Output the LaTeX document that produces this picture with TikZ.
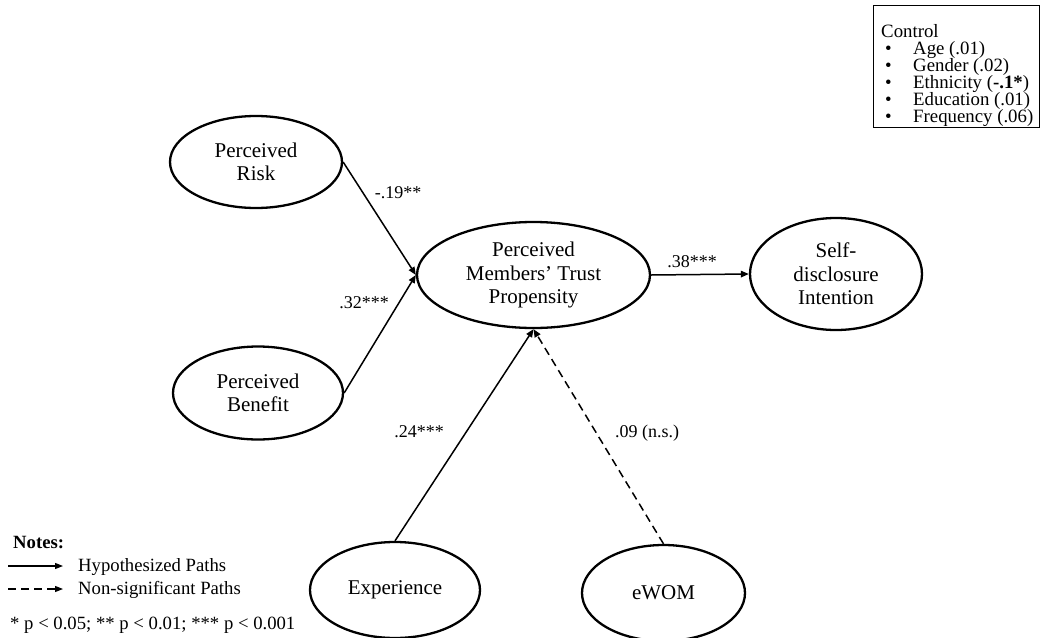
\documentclass[tikz,border=0pt]{standalone}
\usepackage{fontspec}
\setmainfont{Liberation Serif}
\usetikzlibrary{shapes.geometric,arrows.meta}
\newcommand{\tightlines}{\lineskiplimit=-8pt\relax\lineskip=0pt\relax}
\tikzset{
  oval/.style={ellipse, draw, line width=2.3pt, inner sep=0pt, minimum width=2*#1},
  lbl/.style={align=center, font=\fontsize{21}{23.5}\selectfont},
  coef/.style={font=\fontsize{18}{20}\selectfont, inner sep=0pt},
  path/.style={line width=1.5pt, -{Triangle[length=8pt,width=6.5pt]}},
  nspath/.style={path, dash pattern=on 8pt off 5pt},
  note/.style={font=\fontsize{18.7}{20}\selectfont, inner sep=0pt, anchor=west},
}
\begin{document}
\begin{tikzpicture}[x=1pt,y=-1pt]
\useasboundingbox (0,0) rectangle (1041,637);
% ellipses
\node[oval=86pt, minimum height=92pt, label={[lbl]center:Perceived\\Risk}] (risk) at (256,162) {};
\node[oval=85pt, minimum height=93pt, label={[lbl]center:Perceived\\Benefit}] (benefit) at (258,393) {};
\node[oval=116.5pt, minimum height=106pt, label={[lbl]center:Perceived\\Members’ Trust\\Propensity}] (pmtp) at (533.5,275) {};
\node[oval=86pt, minimum height=112pt, label={[lbl]center:Self-\\disclosure\\Intention}] (sdi) at (836,274) {};
\node[oval=85pt, minimum height=96pt, label={[lbl]center:Experience}] (exp) at (395,590) {};
\node[oval=81.5pt, minimum height=96pt, label={[lbl]center:eWOM}] (ewom) at (663.5,593) {};
% paths
\draw[path] (risk.east) -- (pmtp.west);
\draw[path] (benefit.east) -- (pmtp.west);
\draw[path] (exp.north) -- (pmtp.south);
\draw[nspath] (ewom.north) -- (pmtp.south);
\draw[path] (pmtp.east) -- (sdi.west);
% coefficients
\node[coef] (c1) at (398,193) {-.19**};
\node[coef] (c2) at (364,303) {.32***};
\node[coef] (c3) at (692,262) {.38***};
\node[coef] (c4) at (419,432) {.24***};
\node[coef] (c5) at (647,433) {.09 (n.s.)};
% control box
\node[draw, line width=0.8pt, anchor=north west, inner sep=0pt, minimum width=166pt, minimum height=122pt] (ctrl) at (873,5) {};
\node[anchor=north west, inner sep=0pt, align=left, font=\fontsize{18.8}{17}\selectfont\tightlines] (ctrltxt) at (881,24) {%
Control\\
\makebox[32pt][l]{\hspace{4pt}•}Age (.01)\\
\makebox[32pt][l]{\hspace{4pt}•}Gender (.02)\\
\makebox[32pt][l]{\hspace{4pt}•}Ethnicity (\textbf{-.1*})\\
\makebox[32pt][l]{\hspace{4pt}•}Education (.01)\\
\makebox[32pt][l]{\hspace{4pt}•}Frequency (.06)};
% notes
\node[note, font=\fontsize{18.7}{20}\selectfont\bfseries] (notes) at (13,543) {Notes:};
\coordinate (l1a) at (8,566);
\coordinate (l1b) at (63,566);
\coordinate (l2a) at (8,589);
\coordinate (l2b) at (63,589);
\draw[line width=1.3pt, -{Triangle[length=8pt,width=6pt]}] (l1a) -- (l1b);
\draw[line width=1.3pt, dash pattern=on 8pt off 5pt, -{Triangle[length=8pt,width=6pt]}] (l2a) -- (l2b);
\node[note] (n1) at (78,567) {Hypothesized Paths};
\node[note] (n2) at (78,590) {Non-significant Paths};
\node[note] (n3) at (10,625) {* p < 0.05; ** p < 0.01; *** p < 0.001};
\end{tikzpicture}
\end{document}
